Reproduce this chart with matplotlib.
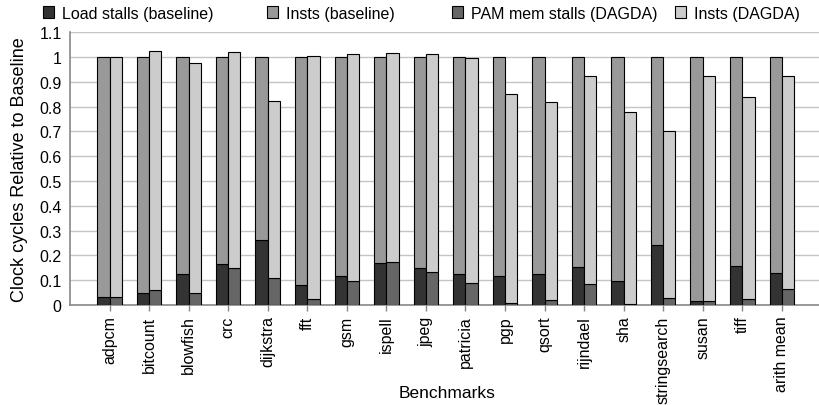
import matplotlib
matplotlib.use('Agg')
import matplotlib.pyplot as plt
from matplotlib.patches import Patch
import numpy as np

plt.rcParams['font.family'] = ['Liberation Sans', 'DejaVu Sans']

benchmarks = ['adpcm', 'bitcount', 'blowfish', 'crc', 'dijkstra', 'fft', 'gsm', 'ispell',
              'jpeg', 'patricia', 'pgp', 'qsort', 'rijndael', 'sha', 'stringsearch',
              'susan', 'tiff', 'arith mean']

# baseline: total is 1.0, load stalls is the dark bottom part
load_stalls_base = [0.032, 0.050, 0.124, 0.167, 0.263, 0.081, 0.115, 0.171,
                    0.151, 0.124, 0.116, 0.127, 0.155, 0.097, 0.241, 0.018, 0.158, 0.128]
total_base = [1.0] * 18

# DAGDA: total height and PAM stalls bottom part
pam_stalls_dagda = [0.034, 0.062, 0.047, 0.151, 0.110, 0.024, 0.096, 0.175,
                    0.132, 0.088, 0.009, 0.020, 0.086, 0.005, 0.030, 0.016, 0.023, 0.065]
total_dagda = [1.000, 1.026, 0.976, 1.019, 0.823, 1.003, 1.012, 1.018,
               1.013, 0.996, 0.852, 0.817, 0.922, 0.778, 0.701, 0.922, 0.841, 0.925]

c_load = '#333333'
c_inst_b = '#999999'
c_pam = '#666666'
c_inst_d = '#cccccc'

x = np.arange(len(benchmarks))
w = 0.31

fig = plt.figure(figsize=(8.19, 4.06), dpi=100)
ax = fig.add_axes([70 / 819, 100 / 406, 749 / 819, (306 - 33.3) / 406])

insts_base = np.array(total_base) - np.array(load_stalls_base)
insts_dagda = np.array(total_dagda) - np.array(pam_stalls_dagda)

kw = dict(width=w, edgecolor='black', linewidth=0.8, zorder=3)
ax.bar(x - w / 2, load_stalls_base, color=c_load, **kw)
ax.bar(x - w / 2, insts_base, bottom=load_stalls_base, color=c_inst_b, **kw)
ax.bar(x + w / 2, pam_stalls_dagda, color=c_pam, **kw)
ax.bar(x + w / 2, insts_dagda, bottom=pam_stalls_dagda, color=c_inst_d, **kw)

ax.set_xlim(-1.0, 17.94)
ax.set_ylim(0, 1.1)
ax.set_yticks(np.arange(0, 1.11, 0.1))
ax.set_yticklabels(['0', '0.1', '0.2', '0.3', '0.4', '0.5', '0.6', '0.7', '0.8', '0.9', '1', '1.1'])
ax.set_xticks(x)
ax.set_xticklabels(benchmarks, rotation=90)
ax.tick_params(axis='both', labelsize=11.5, color='#888888', length=4, width=1)
ax.tick_params(axis='y', length=0, pad=6)
ax.grid(axis='y', color='#c4c4c4', linewidth=1, zorder=0)
for s in ['top', 'right']:
    ax.spines[s].set_visible(False)
for s in ['left', 'bottom']:
    ax.spines[s].set_color('#888888')
    ax.spines[s].set_linewidth(1.2)

ax.set_ylabel('Clock cycles Relative to Baseline', fontsize=13, labelpad=8)
ax.set_xlabel('Benchmarks', fontsize=12.5)
ax.xaxis.set_label_coords((447 - 70) / 749, -(386 - 306) / 272.7)

# legend entries spread across the top, one legend each
labels = ['Load stalls (baseline)', 'Insts (baseline)', 'PAM mem stalls (DAGDA)', 'Insts (DAGDA)']
colors = [c_load, c_inst_b, c_pam, c_inst_d]
xpos = [43, 267, 452, 675]
for lab, col, xp in zip(labels, colors, xpos):
    h = Patch(facecolor=col, edgecolor='black', linewidth=0.8)
    fig.legend(handles=[h], labels=[lab], loc='center left',
               bbox_to_anchor=(xp / 819, 1 - 14 / 406), frameon=False,
               fontsize=11.5, handlelength=0.7, handleheight=0.7, handletextpad=0.5,
               borderpad=0, borderaxespad=0)

fig.savefig('out.png', dpi=100)
